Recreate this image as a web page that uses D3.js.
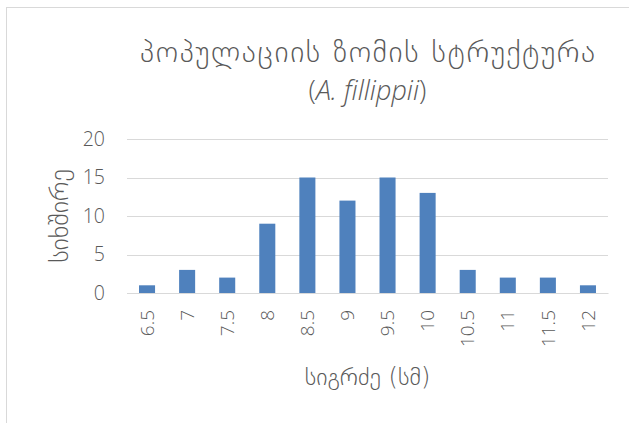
<!DOCTYPE html>
<html>
<head>
<meta charset="utf-8">
<script src="https://cdn.jsdelivr.net/npm/d3@7"></script>
<style>
  html, body { margin: 0; padding: 0; background: #fff; }
  svg { display: block; }
  text { font-family: "Open Sans", "DejaVu Sans", sans-serif; fill: #595959; }
  text.ka { font-family: "DejaVu Sans", sans-serif; font-weight: 200; }
  text.num, .tick text { font-family: "Open Sans", sans-serif; font-weight: 300; }
</style>
</head>
<body>
<svg id="chart" width="629" height="423"></svg>
<script>
// Length classes (cm) and their frequencies
const lengths = ["6.5", "7", "7.5", "8", "8.5", "9", "9.5", "10", "10.5", "11", "11.5", "12"];
const counts = [1, 3, 2, 9, 15, 12, 15, 13, 3, 2, 2, 1];
const yTicks = [0, 5, 10, 15, 20];

const titleLine1 = "პოპულაციის ზომის სტრუქტურა";
const titleSpecies = "A. fillippii";
const xTitle = "სიგრძე (სმ)";
const yTitle = "სიხშირე";

const svg = d3.select("#chart");
const plot = { left: 127, right: 608, top: 139, bottom: 293 };

// Chart area frame
svg.append("rect")
  .attr("x", 6.5).attr("y", 7.5)
  .attr("width", 700).attr("height", 500)
  .attr("fill", "#fff").attr("stroke", "#d9d9d9").attr("stroke-width", 1);

const x = d3.scaleBand().domain(lengths).range([plot.left, plot.right]).paddingInner(0.6).paddingOuter(0.3);
const y = d3.scaleLinear().domain([0, 20]).range([plot.bottom, plot.top]);

// Horizontal gridlines
svg.append("g").selectAll("line").data(yTicks).join("line")
  .attr("x1", plot.left).attr("x2", plot.right)
  .attr("y1", d => Math.round(y(d)) + 0.5).attr("y2", d => Math.round(y(d)) + 0.5)
  .attr("stroke", "#d9d9d9").attr("stroke-width", 1);

// Bars
svg.append("g").selectAll("rect").data(lengths.map((c, i) => ({ c, v: counts[i] }))).join("rect")
  .attr("x", d => x(d.c)).attr("width", x.bandwidth())
  .attr("y", d => y(d.v)).attr("height", d => y(0) - y(d.v))
  .attr("fill", "#4f81bd");

// Y axis labels
const yAxis = d3.axisLeft(y).tickValues(yTicks).tickSize(0).tickPadding(0);
const gy = svg.append("g").attr("transform", `translate(${plot.left - 22},0)`).call(yAxis);
gy.select(".domain").remove();
gy.selectAll("text").attr("font-size", 19.5).attr("fill", "#595959");

// X axis labels (rotated)
const xAxis = d3.axisBottom(x).tickSize(0).tickPadding(0);
const gx = svg.append("g").attr("transform", `translate(0,${plot.bottom})`).call(xAxis);
gx.select(".domain").attr("stroke", "#d9d9d9");
gx.selectAll("text")
  .attr("font-size", 19).attr("fill", "#595959")
  .attr("transform", "rotate(-90)")
  .attr("x", -17).attr("y", 0).attr("dy", "0.35em")
  .attr("text-anchor", "end");

// Title
const cx = (plot.left + plot.right) / 2;
svg.append("text").attr("class", "ka").attr("x", cx).attr("y", 62).attr("text-anchor", "middle")
  .attr("font-size", 30).attr("textLength", 455).attr("lengthAdjust", "spacing").text(titleLine1);
const t2 = svg.append("text").attr("class", "num").attr("x", cx).attr("y", 100).attr("text-anchor", "middle").attr("font-size", 27);
t2.append("tspan").text("(");
t2.append("tspan").attr("font-style", "italic").text(titleSpecies);
t2.append("tspan").text(")");

// Axis titles
svg.append("text").attr("class", "ka").attr("x", cx).attr("y", 385).attr("text-anchor", "middle")
  .attr("font-size", 24).text(xTitle);
svg.append("text").attr("class", "ka").attr("transform", `translate(59,${(plot.top + plot.bottom) / 2}) rotate(-90)`)
  .attr("text-anchor", "middle").attr("dy", "0.35em")
  .attr("font-size", 26).text(yTitle);
</script>
</body>
</html>
